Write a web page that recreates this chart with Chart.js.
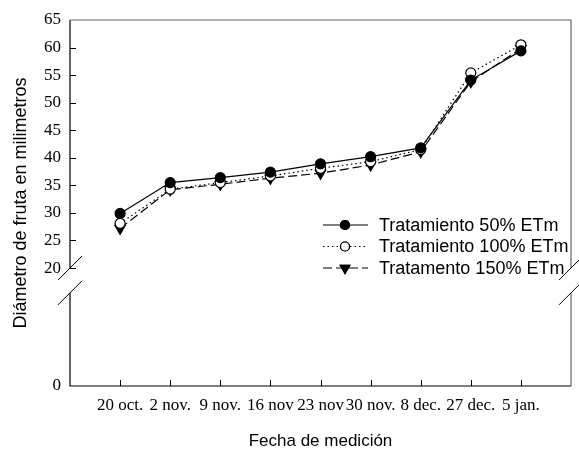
<!DOCTYPE html>
<html>
<head>
<meta charset="utf-8">
<script src="https://cdn.jsdelivr.net/npm/chart.js@4"></script>
<style>
  html, body { margin: 0; padding: 0; background: #fff; }
  #wrap { width: 579px; height: 449px; }
</style>
</head>
<body>
<div id="wrap"><canvas id="chart"></canvas></div>
<script>
const categories = ['20 oct.', '2 nov.', '9 nov.', '16 nov', '23 nov', '30 nov.', '8 dec.', '27 dec.', '5 jan.'];
const trat50 = [29.9, 35.5, 36.4, 37.4, 38.9, 40.2, 41.8, 54.1, 59.4];
const trat100 = [28.1, 34.3, 35.5, 36.7, 38.1, 39.3, 41.5, 55.4, 60.5];
const trat150 = [27.2, 34.2, 35.2, 36.3, 37.2, 38.7, 41.1, 53.8, 59.8];
const yTicks = [20, 25, 30, 35, 40, 45, 50, 55, 60, 65];

// the "0" sits under the axis break, so it gets its own spot on the scale
const ZERO_AT = -1.4;
const BREAK_TOP = 20;
const BREAK_BOTTOM = 15.5;

const serif = "'Liberation Serif', 'Times New Roman', serif";
const sans = "'Liberation Sans', Arial, sans-serif";

function toPoints(arr) {
  return arr.map((v, i) => ({ x: i + 1, y: v }));
}

// frame, broken axes, inward ticks and the legend
const framePlugin = {
  id: 'frame',
  afterDraw(chart) {
    const { ctx, chartArea: a, scales: { x, y } } = chart;
    const yBreakTop = y.getPixelForValue(BREAK_TOP);
    const yBreakBot = y.getPixelForValue(BREAK_BOTTOM);

    ctx.save();
    ctx.lineWidth = 1.2;
    ctx.strokeStyle = '#000';
    ctx.beginPath();
    // left axis, in two pieces
    ctx.moveTo(a.left, a.top); ctx.lineTo(a.left, yBreakTop);
    ctx.moveTo(a.left, yBreakBot); ctx.lineTo(a.left, a.bottom);
    // bottom axis
    ctx.lineTo(a.right, a.bottom);
    ctx.stroke();

    ctx.strokeStyle = '#666';
    ctx.beginPath();
    ctx.moveTo(a.left, a.top); ctx.lineTo(a.right, a.top);
    ctx.lineTo(a.right, yBreakTop);
    ctx.moveTo(a.right, yBreakBot); ctx.lineTo(a.right, a.bottom);
    ctx.stroke();

    // break slashes
    ctx.strokeStyle = '#000';
    ctx.lineWidth = 1;
    ctx.beginPath();
    [a.left, a.right].forEach(px => {
      [yBreakTop, yBreakBot].forEach(py => {
        ctx.moveTo(px - 12, py + 12);
        ctx.lineTo(px + 12, py - 12);
      });
    });
    ctx.stroke();

    // inward ticks
    ctx.lineWidth = 1;
    ctx.beginPath();
    yTicks.forEach(v => {
      if (v >= 65) return;
      const py = Math.round(y.getPixelForValue(v)) + 0.5;
      ctx.moveTo(a.left, py); ctx.lineTo(a.left + 6, py);
    });
    categories.forEach((c, i) => {
      const px = Math.round(x.getPixelForValue(i + 1)) + 0.5;
      ctx.moveTo(px, a.bottom); ctx.lineTo(px, a.bottom - 6);
    });
    ctx.stroke();

    // legend
    const lx = a.right - 248;
    const tx = a.right - 192;
    chart.data.datasets.forEach((ds, i) => {
      const ly = a.top + 205 + i * 21.5;
      ctx.strokeStyle = ds.borderColor;
      ctx.lineWidth = ds.borderWidth;
      ctx.setLineDash(ds.borderDash || []);
      ctx.beginPath();
      ctx.moveTo(lx, ly); ctx.lineTo(lx + 45, ly);
      ctx.stroke();
      ctx.setLineDash([]);
      Chart.helpers.drawPoint(ctx, {
        pointStyle: ds.pointStyle,
        rotation: ds.pointRotation || 0,
        radius: ds.pointRadius - 0.5,
        borderWidth: 1
      }, lx + 22, ly);
      ctx.fillStyle = ds.pointBackgroundColor;
      ctx.strokeStyle = '#000';
      ctx.fill();
      ctx.stroke();
      ctx.fillStyle = '#000';
      ctx.font = '18px ' + sans;
      ctx.textBaseline = 'middle';
      ctx.textAlign = 'left';
      ctx.fillText(ds.label, tx, ly + 1);
    });
    ctx.restore();
  }
};

new Chart(document.getElementById('chart'), {
  type: 'line',
  data: {
    datasets: [
      {
        label: 'Tratamiento 50% ETm',
        data: toPoints(trat50),
        borderColor: '#000',
        borderWidth: 1.2,
        pointStyle: 'circle',
        pointRadius: 5,
        pointBackgroundColor: '#000',
        pointBorderColor: '#000'
      },
      {
        label: 'Tratamiento 100% ETm',
        data: toPoints(trat100),
        borderColor: '#000',
        borderWidth: 1.2,
        borderDash: [1.5, 3],
        pointStyle: 'circle',
        pointRadius: 5,
        pointBackgroundColor: '#fff',
        pointBorderColor: '#000'
      },
      {
        label: 'Tratamento 150% ETm',
        data: toPoints(trat150),
        borderColor: '#000',
        borderWidth: 1.2,
        borderDash: [9, 4],
        pointStyle: 'triangle',
        pointRotation: 180,
        pointRadius: 6,
        pointBackgroundColor: '#000',
        pointBorderColor: '#000'
      }
    ]
  },
  options: {
    responsive: true,
    maintainAspectRatio: false,
    animation: false,
    layout: { padding: { top: 20, right: 8, left: 0, bottom: 0 } },
    plugins: {
      legend: { display: false },
      tooltip: { enabled: false }
    },
    scales: {
      x: {
        type: 'linear',
        min: 0,
        max: 10,
        afterBuildTicks: s => { s.ticks = categories.map((c, i) => ({ value: i + 1 })); },
        afterFit: s => { s.height = 63; },
        grid: { display: false, drawTicks: false },
        border: { display: false },
        ticks: {
          autoSkip: false,
          maxRotation: 0,
          padding: 9,
          color: '#000',
          font: { family: serif, size: 17 },
          callback: v => categories[v - 1]
        },
        title: {
          display: true,
          text: 'Fecha de medición',
          color: '#000',
          font: { family: sans, size: 17 },
          padding: { top: 0, bottom: -3 }
        }
      },
      y: {
        type: 'linear',
        min: ZERO_AT,
        max: 65,
        afterBuildTicks: s => { s.ticks = [ZERO_AT].concat(yTicks).map(v => ({ value: v })); },
        afterFit: s => { s.width = 70; },
        grid: { display: false, drawTicks: false },
        border: { display: false },
        ticks: {
          autoSkip: false,
          padding: 9,
          color: '#000',
          font: { family: serif, size: 17 },
          callback: v => (v < BREAK_TOP ? '0' : v)
        },
        title: {
          display: true,
          text: 'Diámetro de fruta en milimetros',
          color: '#000',
          font: { family: sans, size: 18 },
          padding: { top: 10, bottom: 0 }
        }
      }
    }
  },
  plugins: [framePlugin]
});
</script>
</body>
</html>
